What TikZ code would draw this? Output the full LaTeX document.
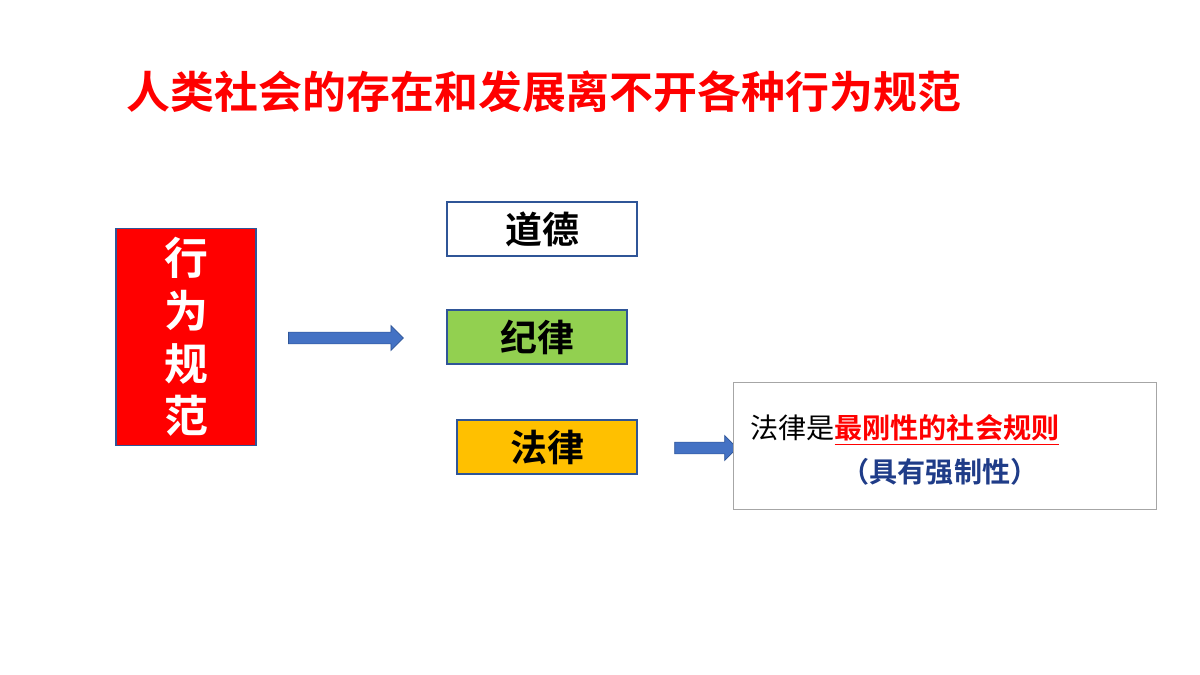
\documentclass[tikz,border=0pt]{standalone}
\usepackage{fontspec}
\newfontfamily\cjk{Noto Sans CJK SC}
\newfontfamily\cjkb{Noto Sans CJK SC Bold}
\usetikzlibrary{shapes.arrows}
\definecolor{titlered}{HTML}{FF0000}
\definecolor{edgeblue}{HTML}{2F5597}
\definecolor{arrowblue}{HTML}{4472C4}
\definecolor{normgreen}{HTML}{92D050}
\definecolor{normorange}{HTML}{FFC000}
\definecolor{notenavy}{HTML}{1F3C88}
\tikzset{
  norm/.style={draw=edgeblue,thick,minimum width=3.8cm,minimum height=1.08cm,
    font=\cjkb\fontsize{21}{21}\selectfont},
  bigarrow/.style={single arrow,draw=edgeblue,fill=arrowblue,
    single arrow head extend=0.12cm,minimum height=#1,minimum width=0.5cm,inner sep=0.1cm}
}
\begin{document}
\begin{tikzpicture}[x=0.02cm,y=-0.02cm]
\useasboundingbox (0,0) rectangle (1200,675);
\node[font=\cjkb\fontsize{25}{25}\selectfont,text=titlered] (title) at (544,92) {人类社会的存在和发展离不开各种行为规范};
\node[draw=edgeblue,thick,fill=red,minimum width=2.8cm,minimum height=4.34cm,
  text=white,align=center,font=\cjkb\fontsize{25}{30}\selectfont] (kinds) at (186,337)
  {行\\为\\规\\范};
\node[bigarrow=2.3cm] (arr1) at (343,338) {};
\node[norm,fill=white] (moral) at (542,229) {道德};
\node[norm,fill=normgreen,minimum width=3.6cm] (disc) at (537,337) {纪律};
\node[norm,fill=normorange,minimum width=3.6cm] (law) at (547,447) {法律};
\node[bigarrow=1.25cm] (arr2) at (703,448) {};
\node[draw=gray!70,fill=white,minimum width=8.46cm,minimum height=2.54cm] (note) at (945,446) {};
\node[anchor=west,font=\fontsize{16}{16}\selectfont] (line1) at (744,430)
  {{\cjk 法律是}{\cjkb\color{titlered}\underline{最刚性的社会规则}}};
\node[font=\cjkb\fontsize{16}{16}\selectfont,text=notenavy] (line2) at (940,472) {（具有强制性）};
\end{tikzpicture}
\end{document}
